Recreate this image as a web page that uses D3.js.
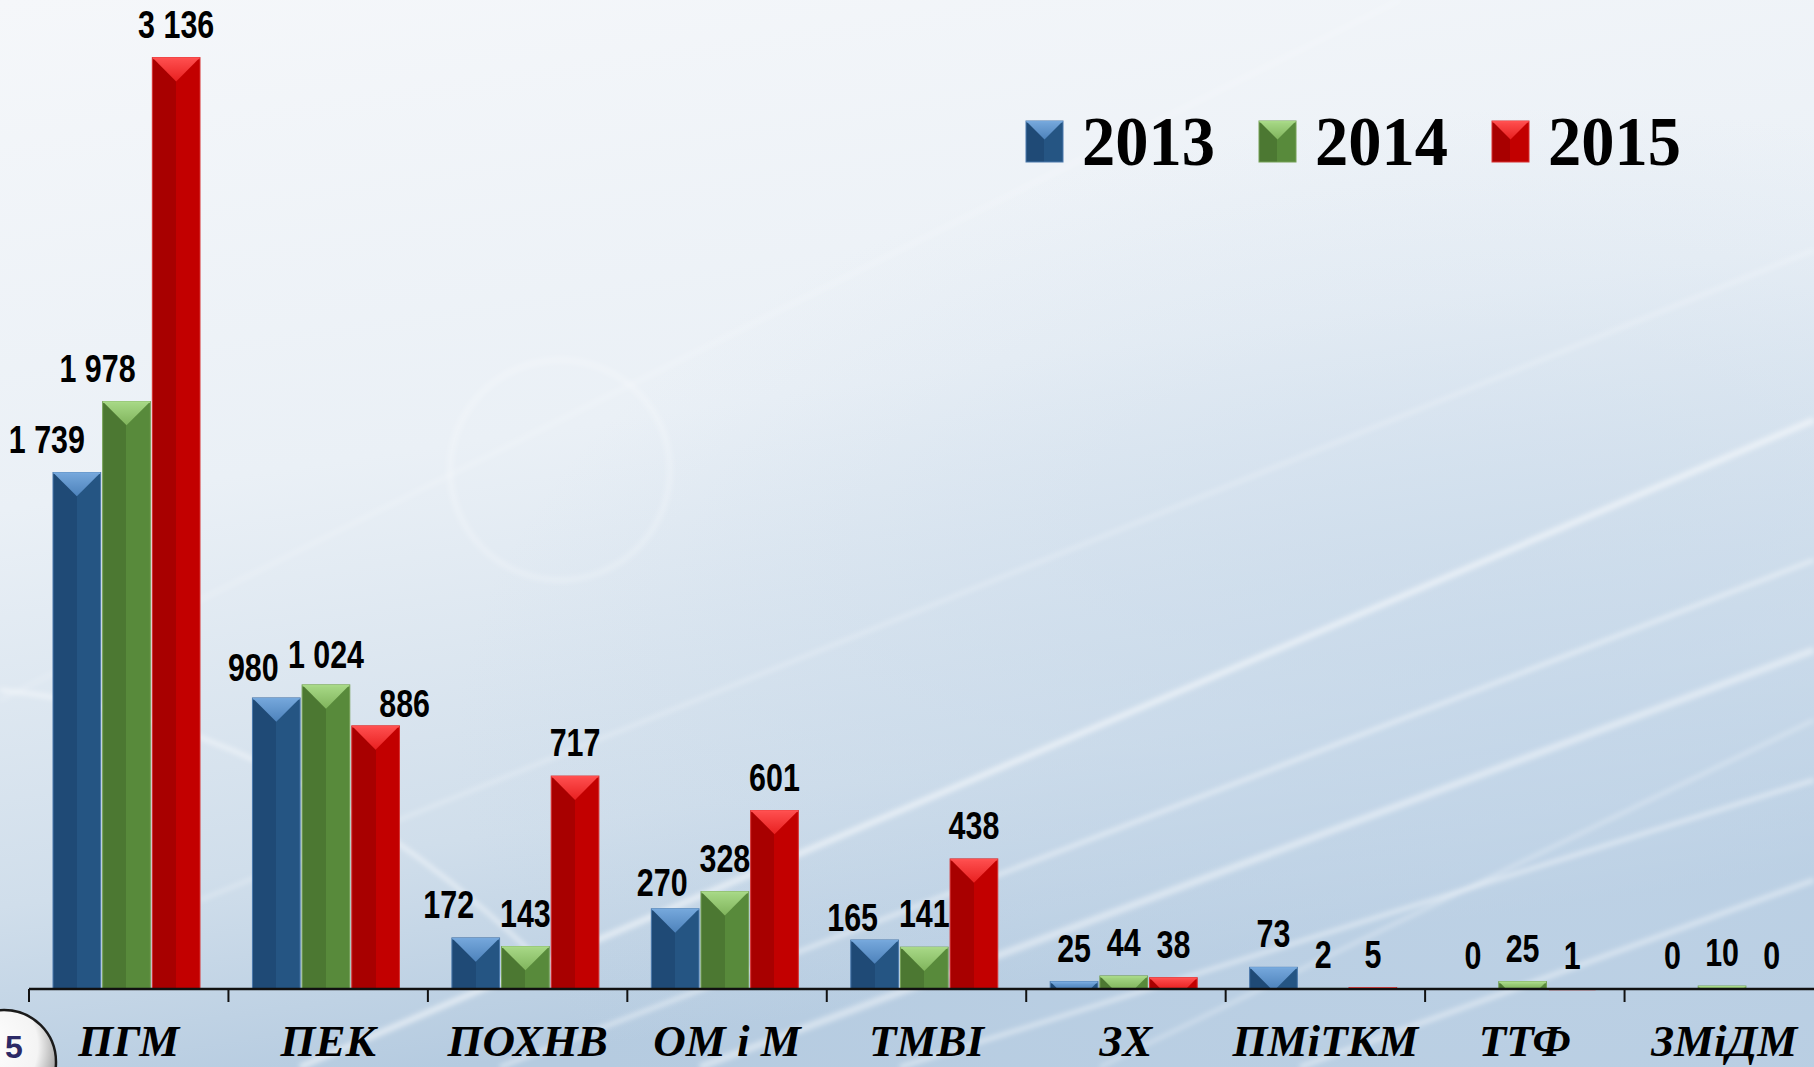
<!DOCTYPE html>
<html><head><meta charset="utf-8">
<script src="https://cdn.jsdelivr.net/npm/d3@7/dist/d3.min.js"></script>
<style>html,body{margin:0;padding:0;overflow:hidden;background:#eef3f8}</style>
</head><body>
<svg id="chart" width="1814" height="1067"></svg>
<script>
const categories = ["ПГМ","ПЕК","ПОХНВ","ОМ і М","ТМВІ","ЗХ","ПМіТКМ","ТТФ","ЗМіДМ"];
const years = ["2013","2014","2015"];
const values2013 = [1739, 980, 172, 270, 165, 25, 73, 0, 0];
const values2014 = [1978, 1024, 143, 328, 141, 44, 2, 25, 10];
const values2015 = [3136, 886, 717, 601, 438, 38, 5, 1, 0];
const seriesValues = [values2013, values2014, values2015];
const formatValue = v => d3.format(",")(v).replace(/,/g, " ");

// label nudges (layout only)
const labelNudge = {
  "ПГМ|2013": [-30, 0], "ПГМ|2014": [-29, 0],
  "ПЕК|2013": [-23, 3], "ПЕК|2014": [0, 3], "ПЕК|2015": [29, 11],
  "ПОХНВ|2013": [-27, 0], "ОМ і М|2013": [-13, 7], "ТМВІ|2013": [-22, 11]
};

const W = 1814, H = 1067;
const svg = d3.select("#chart");
const defs = svg.append("defs");

// background
const bg = defs.append("linearGradient").attr("id","bg").attr("x1",0).attr("y1",0).attr("x2",0.25).attr("y2",1);
bg.append("stop").attr("offset","0%").attr("stop-color","#f5f7fa");
bg.append("stop").attr("offset","45%").attr("stop-color","#eaf0f6");
bg.append("stop").attr("offset","80%").attr("stop-color","#d0deeb");
bg.append("stop").attr("offset","100%").attr("stop-color","#b5cbe0");
svg.append("rect").attr("width",W).attr("height",H).attr("fill","url(#bg)");
const bg2 = defs.append("radialGradient").attr("id","bg2").attr("cx","85%").attr("cy","70%").attr("r","60%");
bg2.append("stop").attr("offset","0%").attr("stop-color","#c3d6e9").attr("stop-opacity",0.7);
bg2.append("stop").attr("offset","100%").attr("stop-color","#c3d6e9").attr("stop-opacity",0);
svg.append("rect").attr("width",W).attr("height",H).attr("fill","url(#bg2)");
const blur = defs.append("filter").attr("id","soft").attr("x","-10%").attr("y","-10%").attr("width","120%").attr("height","120%");
blur.append("feGaussianBlur").attr("stdDeviation",2.5);

// streaks
const streaks = [
  [[300,1067],[1814,420],6,0.55],[[500,1067],[1814,560],4,0.5],[[700,1067],[1814,650],7,0.45],
  [[200,900],[1814,250],3,0.35],[[900,1067],[1814,780],4,0.5],[[1100,1067],[1814,720],3,0.4],
  [[0,700],[1400,0],3,0.25],[[1300,1067],[1814,880],5,0.45]
];
const sg = svg.append("g").attr("filter","url(#soft)");
streaks.forEach(s => {
  sg.append("line").attr("x1",s[0][0]).attr("y1",s[0][1]).attr("x2",s[1][0]).attr("y2",s[1][1])
    .attr("stroke","#ffffff").attr("stroke-width",s[2]).attr("stroke-opacity",s[3]);
});
sg.append("path").attr("d","M0,690 Q300,720 560,980").attr("fill","none").attr("stroke","#fff").attr("stroke-width",4).attr("stroke-opacity",0.5);
sg.append("circle").attr("cx",560).attr("cy",470).attr("r",110).attr("fill","none").attr("stroke","#fff").attr("stroke-width",5).attr("stroke-opacity",0.25);

// scales
const x0 = d3.scaleBand().domain(categories).range([29, 1824]).paddingInner(0).paddingOuter(0);
const x1 = d3.scaleBand().domain(years).range([24, 171]).paddingInner(0.04);
const y = d3.scaleLinear().domain([0, 3300]).range([989, 989 - 3300 * 0.297]);

const palette = {
  "2013": {l:"#1f4a76", r:"#255583", t1:"#76a8dc", t2:"#4d82bb", e:"#4a78ab"},
  "2014": {l:"#4c7832", r:"#588a3b", t1:"#a8d987", t2:"#80b45c", e:"#75a055"},
  "2015": {l:"#a80000", r:"#c20000", t1:"#ff5050", t2:"#e82020", e:"#d83030"}
};
years.forEach(yr => {
  const p = palette[yr];
  const g = defs.append("linearGradient").attr("id","side"+yr).attr("x1",0).attr("x2",1).attr("y1",0).attr("y2",0);
  g.append("stop").attr("offset","0%").attr("stop-color",p.l);
  g.append("stop").attr("offset","50%").attr("stop-color",p.l);
  g.append("stop").attr("offset","50%").attr("stop-color",p.r);
  g.append("stop").attr("offset","100%").attr("stop-color",p.r);
  const t = defs.append("linearGradient").attr("id","top"+yr).attr("x1",0).attr("x2",0).attr("y1",0).attr("y2",1);
  t.append("stop").attr("offset","0%").attr("stop-color",p.t1);
  t.append("stop").attr("offset","100%").attr("stop-color",p.t2);
});

const bars = [];
categories.forEach((c, i) => years.forEach((yr, j) => bars.push({c, yr, v: seriesValues[j][i]})));

function drawBar(g, x, top, w, h, yr) {
  if (h <= 0) return;
  g.append("rect").attr("x",x).attr("y",top).attr("width",w).attr("height",h)
    .attr("fill","url(#side"+yr+")").attr("stroke",palette[yr].e).attr("stroke-width",1);
  const d = Math.min(w/2, h);
  const pts = d >= w/2 - 0.01
    ? [[x,top],[x+w,top],[x+w/2,top+d]]
    : [[x,top],[x+w,top],[x+w-d,top+d],[x+d,top+d]];
  g.append("polygon").attr("points", pts.map(p=>p.join(",")).join(" ")).attr("fill","url(#top"+yr+")");
  g.append("line").attr("x1",x+0.5).attr("x2",x+w-0.5).attr("y1",top+0.8).attr("y2",top+0.8)
    .attr("stroke",palette[yr].t1).attr("stroke-width",1.5);
}

const barG = svg.append("g");
bars.forEach(b => {
  const x = x0(b.c) + x1(b.yr), w = x1.bandwidth();
  const top = y(b.v), h = y(0) - y(b.v);
  drawBar(barG, x, top, w, h, b.yr);
});

// axis
const axisG = svg.append("g");
axisG.append("line").attr("x1",x0.range()[0]).attr("x2",W).attr("y1",y(0)).attr("y2",y(0))
  .attr("stroke","#111").attr("stroke-width",2.5);
axisG.selectAll("line.tick").data(categories).join("line").attr("class","tick")
  .attr("x1",d=>x0(d)).attr("x2",d=>x0(d)).attr("y1",y(0)).attr("y2",y(0)+13)
  .attr("stroke","#111").attr("stroke-width",2);
axisG.selectAll("text.cat").data(categories).join("text").attr("class","cat")
  .attr("x",d=>x0(d)+x0.bandwidth()/2).attr("y",1056)
  .attr("text-anchor","middle")
  .attr("font-family","'Liberation Serif','Times New Roman',serif")
  .attr("font-weight","bold").attr("font-style","italic").attr("font-size",45)
  .attr("fill","#000").text(d=>d);

// value labels (condensed bold sans)
svg.append("g").selectAll("text").data(bars).join("text")
  .attr("transform", d => {
    const n = labelNudge[d.c+"|"+d.yr] || [0,0];
    const lx = x0(d.c) + x1(d.yr) + x1.bandwidth()/2 + n[0];
    const ly = y(d.v) - 20 + n[1];
    return `translate(${lx},${ly}) scale(0.78,1)`;
  })
  .attr("text-anchor","middle")
  .attr("font-family","'Liberation Sans',Arial,sans-serif")
  .attr("font-weight","bold").attr("font-size",39).attr("fill","#000")
  .text(d => formatValue(d.v));

// legend
const legendX = [1026, 1259, 1492];
const lg = svg.append("g");
years.forEach((yr, j) => {
  drawBar(lg, legendX[j], 121, 37, 41, yr);
  lg.append("text").attr("x", legendX[j] + 56).attr("y", 165)
    .attr("font-family","'Liberation Serif','Times New Roman',serif").attr("font-weight","bold")
    .attr("font-size",70).attr("textLength",133).attr("lengthAdjust","spacingAndGlyphs")
    .attr("fill","#000").text(yr);
});

// page number circle
const cg = defs.append("radialGradient").attr("id","circ").attr("cx","30%").attr("cy","35%").attr("r","75%");
cg.append("stop").attr("offset","0%").attr("stop-color","#ffffff");
cg.append("stop").attr("offset","70%").attr("stop-color","#f4f4f4");
cg.append("stop").attr("offset","100%").attr("stop-color","#9a9a9a");
svg.append("circle").attr("cx",4).attr("cy",1062).attr("r",52).attr("fill","url(#circ)")
  .attr("stroke","#1a1a1a").attr("stroke-width",2.5);
svg.append("text").attr("x",14).attr("y",1058).attr("text-anchor","middle")
  .attr("font-family","'Liberation Sans',Arial,sans-serif").attr("font-weight","bold")
  .attr("font-size",32).attr("fill","#2b2966").text("5");
</script>
</body></html>
